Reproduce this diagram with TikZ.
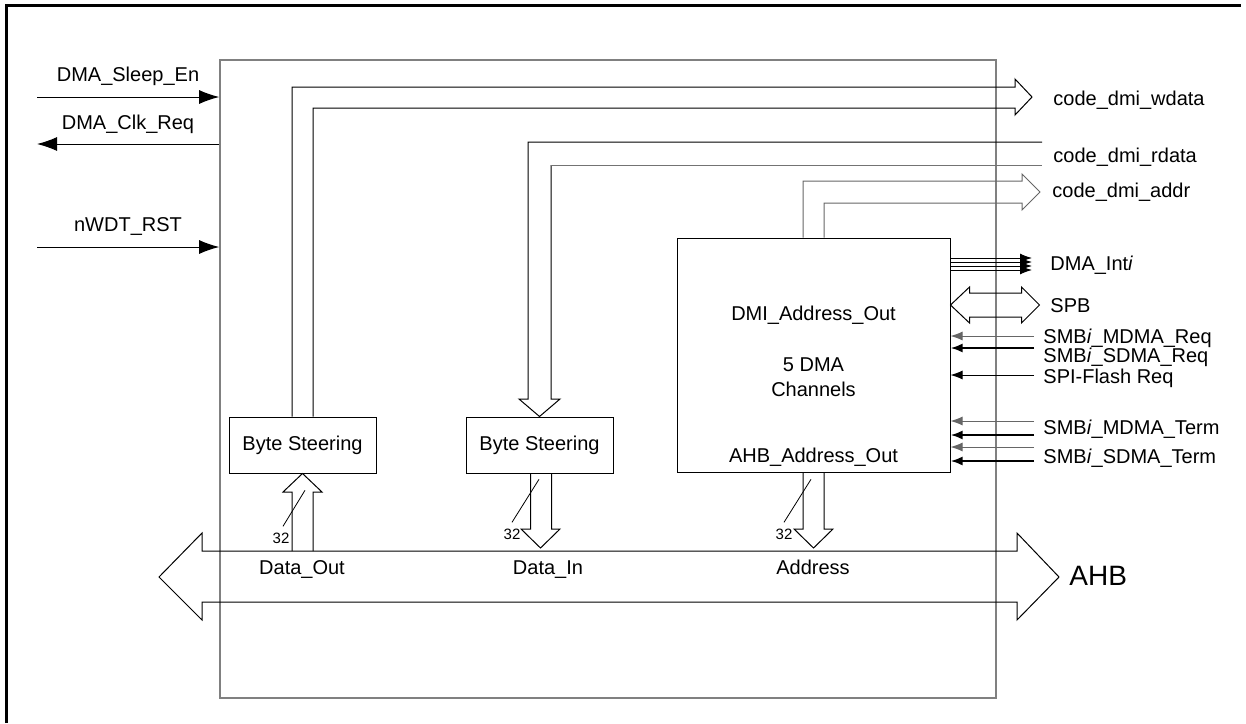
\documentclass[tikz,border=0pt]{standalone}
\usepackage{fontspec}
\setmainfont{Liberation Sans}
\usetikzlibrary{arrows.meta, calc, positioning}

\begin{document}
\begin{tikzpicture}[
  x=0.5pt, y=-0.5pt,
  font=\fontsize{10}{12.5}\selectfont,
  >={Latex[length=10pt, width=7pt]},
  box/.style={draw, line width=0.5pt, align=center, inner sep=0pt},
  chip/.style={box, draw=black!50, line width=0.8pt,
               minimum width=388pt, minimum height=319pt},
  unit/.style={box, minimum width=73.5pt, minimum height=28pt},
  chan/.style={box, minimum width=136.5pt, minimum height=117pt},
  lbl/.style={inner sep=0pt, text height=7.2pt, text depth=0pt},
  sig/.style={lbl, anchor=west},
  wid/.style={inner sep=0pt, font=\fontsize{7.5}{8}\selectfont},
  arr/.style={->, line width=0.5pt},
  rq/.style={->, >={Latex[length=6pt, width=4.5pt]}, line width=0.5pt, draw=black!60},
  rqb/.style={rq, line width=1.1pt, draw=black},
  irq/.style={->, >={Latex[length=6pt, width=4.5pt]}, line width=0.5pt},
  bus/.style={line width=0.5pt},
  slash/.style={line width=0.4pt},
]
\useasboundingbox (0,0) rectangle (1246,723);

% page frame (left and top only)
\draw[line width=1.5pt] (6,723) -- (6,5) -- (1241,5);

% ============ NODES ============

% DMA block and inner units
\node[chip] (chip) at (608,379) {};
\node[unit] (bs1) at (302.5,445) {Byte Steering};
\node[unit] (bs2) at (539.5,445) {Byte Steering};
\node[chan] (chan) at (813.5,355) {};
\node[lbl] (dmiout) at (813.5,313) {DMI\_Address\_Out};
\node[align=center, inner sep=0pt] (nch) at (813.5,377) {5 DMA\\Channels};
\node[lbl] (ahbout) at (813.5,455) {AHB\_Address\_Out};

% Left side signals
\node[lbl] (sleep) at (128,74)  {DMA\_Sleep\_En};
\node[lbl] (clk)   at (128,122) {DMA\_Clk\_Req};
\node[lbl] (wdt)   at (128,224) {nWDT\_RST};
\coordinate (sleepW) at (37,97);
\coordinate (clkW)   at (37,144);
\coordinate (wdtW)   at (37,247);

% Right side labels
\node[sig] (wdata) at (1053,98)  {code\_dmi\_wdata};
\node[sig] (rdata) at (1053,155) {code\_dmi\_rdata};
\node[sig] (addr)  at (1052,190) {code\_dmi\_addr};
\node[sig] (dint)  at (1050,263) {DMA\_Int\textit{i}};
\node[sig] (spb)   at (1050,305) {SPB};
\node[sig] (mreq)  at (1043,336) {SMB\textit{i}\_MDMA\_Req};
\node[sig] (sreq)  at (1043,355) {SMB\textit{i}\_SDMA\_Req};
\node[sig] (spi)   at (1043,376) {SPI-Flash Req};
\node[sig] (mterm) at (1043,427) {SMB\textit{i}\_MDMA\_Term};
\node[sig] (sterm) at (1043,456) {SMB\textit{i}\_SDMA\_Term};

% Bus labels
\node[lbl] (dout) at (302,567) {Data\_Out};
\node[lbl] (din)  at (548,567) {Data\_In};
\node[lbl] (adr)  at (813,567) {Address};
\node[sig, text height=10pt, font=\fontsize{14}{16}\selectfont] (ahb) at (1069,575) {AHB};

% bus widths
\node[wid] (w1) at (281,538) {32};
\node[wid] (w2) at (512,534) {32};
\node[wid] (w3) at (784,534) {32};

% ============ ARROWS ============

% Left signals
\draw[arr] (sleepW) -- (sleepW -| chip.west);
\draw[arr] (clkW -| chip.west) -- (clkW);
\draw[arr] (wdtW) -- (wdtW -| chip.west);

% DMA_Inti (four lines)
\foreach \dy in {-5,-1,3,7}
  \draw[irq] ($(chan.east |- dint.west)+(0,\dy)$) -- ($(dint.west)+(-18,\dy)$);

% Requests and terminations
\coordinate (mreqE)  at ($(mreq.west)+(-9,0)$);
\coordinate (sreqE)  at ($(sreq.west)+(-9,-7)$);
\coordinate (spiE)   at ($(spi.west)+(-9,-1)$);
\coordinate (mtermE) at ($(mterm.west)+(-9,-6)$);
\coordinate (mtermF) at ($(mterm.west)+(-9,8)$);
\coordinate (stermE) at ($(sterm.west)+(-9,-9)$);
\coordinate (stermF) at ($(sterm.west)+(-9,5)$);
\draw[rq]  (mreqE)  -- (mreqE -| chan.east);
\draw[rqb] (sreqE)  -- (sreqE -| chan.east);
\draw[rq, draw=black] (spiE) -- (spiE -| chan.east);
\draw[rq]  (mtermE) -- (mtermE -| chan.east);
\draw[rqb] (mtermF) -- (mtermF -| chan.east);
\draw[rq]  (stermE) -- (stermE -| chan.east);
\draw[rqb] (stermF) -- (stermF -| chan.east);

% SPB (two-way bus)
\draw[bus] (chan.east |- spb.west) -- ++(19,-18) -- ++(0,6) -- ++(52,0) -- ++(0,-6)
  -- ++(18,18) -- ++(-18,18) -- ++(0,-6) -- ++(-52,0) -- ++(0,6) -- cycle;

% code_dmi_wdata bus (from Byte Steering)
\draw[bus] ($(bs1.north)+(-10.5,0)$) |- (1015,87) -- (1015,79) -- (1032,97)
  -- (1015,115) -- (1015,108) -| ($(bs1.north)+(10.5,0)$);

% code_dmi_rdata bus (into Byte Steering)
\draw[bus] (1042,142) -| (528,399) -- (519,399) -- (bs2.north) -- (560,399)
  -- (551,399) -- (551,165);
\draw[bus, draw=black!55] (551,165) -- (1042,165);

% code_dmi_addr bus (from DMA channels)
\draw[bus, draw=black!60] ($(chan.north)+(-10.5,0)$) |- (1022,181) -- (1022,174)
  -- (1040,192) -- (1022,210) -- (1022,203) -| ($(chan.north)+(10.5,0)$);

% AHB -> Byte Steering (Data_Out)
\draw[bus] (292,551) -- (292,492) -- (283,492) -- (bs1.south) -- (322,492)
  -- (313,492) -- (313,551);

% Byte Steering -> AHB (Data_In)
\draw[bus] ($(bs2.south)+(-9,0)$) -- (530.5,529) -- (521,529) -- (540.5,548)
  -- (560,529) -- (551.5,529) -- ($(bs2.south)+(12,0)$);

% DMA channels -> AHB (Address)
\draw[bus] ($(chan.south)+(-10.5,0)$) -- (803,529) -- (794,529) -- (813.5,548)
  -- (833,529) -- (824,529) -- ($(chan.south)+(10.5,0)$);

% AHB (two-way bus)
\draw[bus] (202,551) -- (1017,551) -- (1017,533) -- (1059,577) -- (1017,620)
  -- (1017,602) -- (202,602) -- (202,620) -- (159,577) -- (202,533) -- cycle;

% bus width slashes
\draw[slash] ([xshift=1pt,yshift=3pt]w1.north) -- ++(22,-36);
\draw[slash] ([yshift=3pt]w2.north) -- ++(27,-43);
\draw[slash] ([yshift=3pt]w3.north) -- ++(27,-43);

\end{tikzpicture}
\end{document}
